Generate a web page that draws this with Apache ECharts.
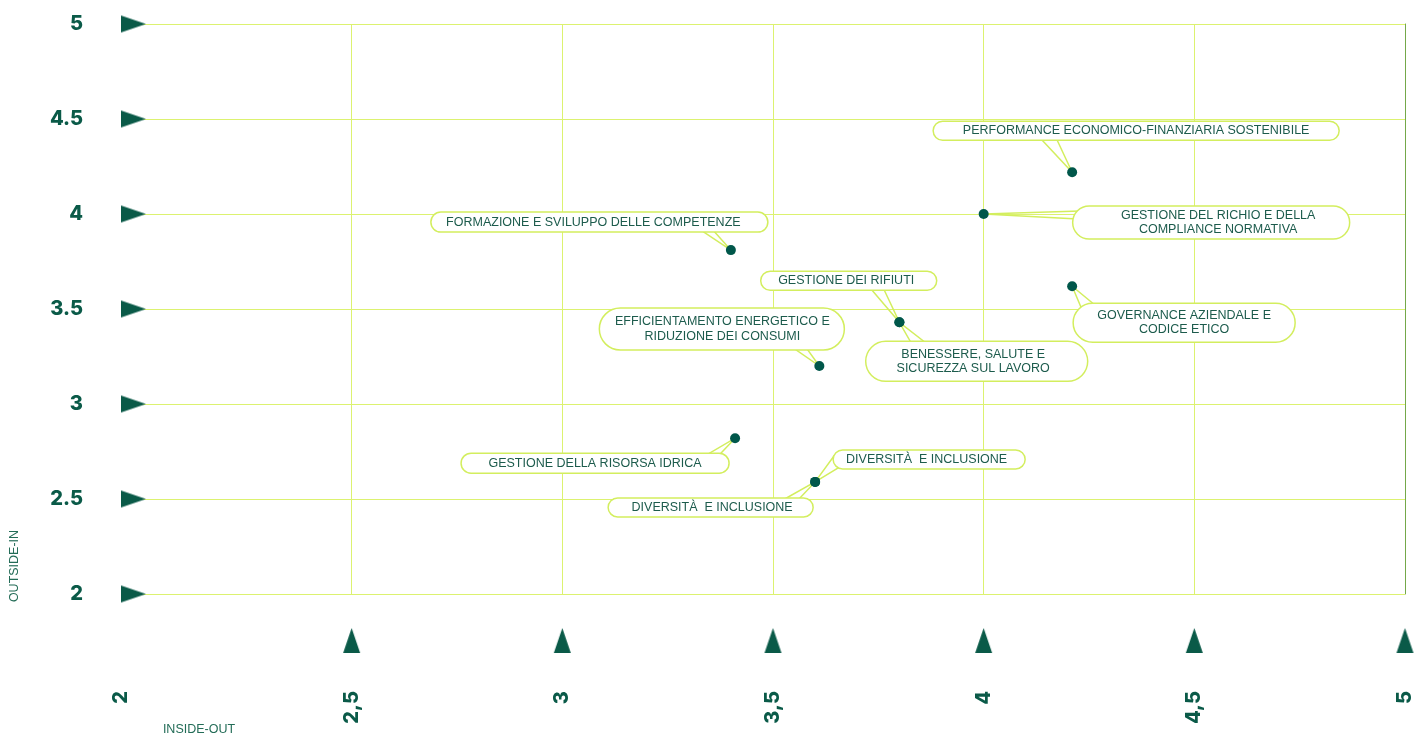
<!DOCTYPE html>
<html>
<head>
<meta charset="utf-8">
<style>
html,body{margin:0;padding:0;background:#ffffff;}
#chart{width:1416px;height:735px;}
</style>
<script src="https://cdn.jsdelivr.net/npm/echarts@6.0.0/dist/echarts.min.js"></script>
</head>
<body>
<div id="chart"></div>
<script>
// ---- data ----
const topics = [
  'PERFORMANCE ECONOMICO-FINANZIARIA SOSTENIBILE',
  'GESTIONE DEL RICHIO E DELLA\nCOMPLIANCE NORMATIVA',
  'FORMAZIONE E SVILUPPO DELLE COMPETENZE',
  'GESTIONE DEI RIFIUTI',
  'BENESSERE, SALUTE E\nSICUREZZA SUL LAVORO',
  'EFFICIENTAMENTO ENERGETICO E\nRIDUZIONE DEI CONSUMI',
  'GOVERNANCE AZIENDALE E\nCODICE ETICO',
  'GESTIONE DELLA RISORSA IDRICA',
  'DIVERSITÀ  E INCLUSIONE',
  'DIVERSITÀ  E INCLUSIONE'
];
const insideOut = [4.21, 4.00, 3.40, 3.80, 3.80, 3.61, 4.21, 3.41, 3.60, 3.60];
const outsideIn = [4.22, 4.00, 3.81, 3.43, 3.43, 3.20, 3.62, 2.82, 2.59, 2.59];
const xTickLabels = ['2', '2,5', '3', '3,5', '4', '4,5', '5'];
const yTickLabels = ['2', '2.5', '3', '3.5', '4', '4.5', '5'];
const xAxisTitle = 'INSIDE-OUT';
const yAxisTitle = 'OUTSIDE-IN';

// ---- callout layout (offsets from the point, in px) ----
const calloutLayout = [
  {dx: 64,     dy: -41.5, w: 406, h: 19, tdx: 0,    b: [[-30, -32], [-15, -32]]},
  {dx: 227.5,  dy: 8.5,   w: 277, h: 33, tdx: 7,    b: [[94, -3], [94, 5]]},
  {dx: -131.5, dy: -28,   w: 337, h: 20, tdx: -6,   b: [[-30, -20], [-18, -20]]},
  {dx: -50.7,  dy: -41.5, w: 176, h: 19, tdx: -2.5, b: [[-29, -34], [-16, -34]]},
  {dx: 77.3,   dy: 39,    w: 222, h: 40, tdx: -3.5, b: [[12, 21], [27, 21]]},
  {dx: -97.5,  dy: -37,   w: 245, h: 42, tdx: 0.5,  b: [[-26, -18], [-13, -18]]},
  {dx: 112,    dy: 36.5,  w: 222, h: 39, tdx: 0,    b: [[8, 19], [23, 19]]},
  {dx: -140,   dy: 25,    w: 268, h: 20, tdx: 0,    b: [[-29, 17], [-16, 17]]},
  {dx: 114,    dy: -22.5, w: 192, h: 19, tdx: -2.5, b: [[16, -22], [23, -14]]},
  {dx: -104.5, dy: 25.5,  w: 205, h: 19, tdx: 1.5,  b: [[-32, 18], [-17, 18]]}
];

const DARK = '#0a5a48';
const TEXT = '#1c5b4c';
const LIME = '#d3ee5e';
const GRID = '#dcf270';

// triangle marker image for the tick labels
const tri = document.createElement('canvas');
tri.width = 25; tri.height = 17;
(function () {
  const c = tri.getContext('2d');
  c.fillStyle = DARK;
  c.beginPath();
  c.moveTo(0, 0); c.lineTo(25, 8.5); c.lineTo(0, 17);
  c.closePath(); c.fill();
})();

const pts = topics.map((t, i) => [insideOut[i], outsideIn[i]]);
const tickIndex = v => Math.round((v - 2) / 0.5);

const richBase = {
  v: {fontFamily: 'Inter', fontWeight: 800, fontSize: 20, color: DARK, verticalAlign: 'middle'},
  g: {width: 38, height: 17, verticalAlign: 'middle'},
  t: {width: 25, height: 17, verticalAlign: 'middle', backgroundColor: {image: tri}},
  e: {width: 25, height: 17, verticalAlign: 'middle'},
  s: {width: 1, height: 41}
};

const chart = echarts.init(document.getElementById('chart'), null, {renderer: 'canvas'});

const option = {
  animation: false,
  backgroundColor: '#ffffff',
  grid: {left: 141, right: 11, top: 24, bottom: 141, containLabel: false, outerBoundsMode: 'none'},
  xAxis: {
    type: 'value', min: 2, max: 5, interval: 0.5,
    axisLine: {show: false}, axisTick: {show: false},
    splitLine: {show: true, showMinLine: false, lineStyle: {color: GRID, width: 1}},
    axisLabel: {
      show: true, rotate: 90, margin: 34, showMinLabel: true, showMaxLabel: true,
      formatter: v => {
        const i = tickIndex(v);
        if (i === 0) return '{v|' + xTickLabels[i] + '}{g|}{e|}\n{s|}';
        return '{v|' + xTickLabels[i] + '}{g|}{t|}';
      },
      rich: richBase
    }
  },
  yAxis: [{
    type: 'value', min: 2, max: 5, interval: 0.5, position: 'left',
    axisLine: {show: false}, axisTick: {show: false},
    splitLine: {show: true, lineStyle: {color: GRID, width: 1}},
    axisLabel: {
      show: true, margin: -5, showMinLabel: true, showMaxLabel: true,
      formatter: v => '{v|' + yTickLabels[tickIndex(v)] + '}{g|}{t|}',
      rich: richBase
    }
  }, {
    type: 'value', min: 2, max: 5, interval: 0.5, position: 'right',
    axisLine: {show: true, lineStyle: {color: '#74a84a', width: 1}},
    axisTick: {show: false}, axisLabel: {show: false}, splitLine: {show: false}
  }],
  graphic: [
    {type: 'text', x: 199, y: 723.5, silent: true,
     style: {text: xAxisTitle, font: '12.5px "Liberation Sans"', fill: '#236c57', align: 'center', verticalAlign: 'top'}},
    {type: 'text', x: 15, y: 566, rotation: Math.PI / 2, silent: true,
     style: {text: yAxisTitle, font: '12.5px "Liberation Sans"', fill: '#236c57', align: 'center', verticalAlign: 'middle'}}
  ],
  series: [{
    type: 'custom',
    clip: false,
    z: 3,
    data: pts,
    encode: {x: 0, y: 1},
    renderItem: (params, api) => {
      const p = api.coord([api.value(0), api.value(1)]);
      const L = calloutLayout[params.dataIndex];
      const cx = p[0] + L.dx, cy = p[1] + L.dy;
      const k = 1.2;
      return {
        type: 'group',
        children: [
          {type: 'polyline',
           shape: {points: [[p[0] + L.b[0][0] * k, p[1] + L.b[0][1] * k], [p[0], p[1]], [p[0] + L.b[1][0] * k, p[1] + L.b[1][1] * k]]},
           style: {fill: null, stroke: LIME, lineWidth: 1.5}},
          {type: 'rect',
           shape: {x: cx - L.w / 2, y: cy - L.h / 2, width: L.w, height: L.h, r: L.h / 2},
           style: {fill: '#ffffff', stroke: LIME, lineWidth: 1.5}},
          {type: 'text',
           style: {x: cx + L.tdx, y: cy, text: topics[params.dataIndex], align: 'center', verticalAlign: 'middle',
                   font: '12.5px "Liberation Sans"', lineHeight: 14.5, fill: TEXT}}
        ]
      };
    }
  }, {
    type: 'scatter',
    z: 10,
    symbol: 'circle',
    symbolSize: 10,
    itemStyle: {color: '#00574a', opacity: 1},
    data: pts
  }]
};
chart.setOption(option);
</script>
</body>
</html>
